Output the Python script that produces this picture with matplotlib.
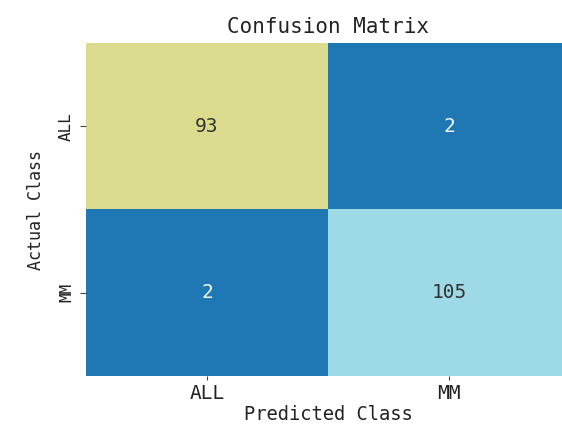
import numpy as np
import matplotlib
matplotlib.use("Agg")
import matplotlib.pyplot as plt
from matplotlib.colors import ListedColormap, BoundaryNorm

plt.rcParams["font.family"] = ["DejaVu Sans Mono"]

class_names = ["ALL", "MM"]
cm = np.array([[93, 2],
               [2, 105]])

# blue for small counts, olive / cyan for the diagonal
cmap = ListedColormap(["#1f77b4", "#dadb8d", "#9edae5"])
norm = BoundaryNorm([0, 50, 100, 120], cmap.N)

fig = plt.figure(figsize=(5.62, 4.25), dpi=100)
# heatmap runs slightly past the right edge of the canvas
ax = fig.add_axes([86 / 562, 49 / 425, 484 / 562, 333 / 425])

ax.imshow(cm, cmap=cmap, norm=norm, aspect="auto")
for i in range(cm.shape[0]):
    for j in range(cm.shape[1]):
        val = cm[i, j]
        color = "#f5f5f5" if val < 50 else "#333333"
        ax.text(j, i, str(val), ha="center", va="center", fontsize=14, color=color)

ax.set_xticks(range(len(class_names)))
ax.set_xticklabels(class_names, fontsize=14, color="#222222")
ax.set_yticks(range(len(class_names)))
ax.set_yticklabels(class_names, fontsize=11.5, rotation=90, va="center", color="#222222")
for s in ax.spines.values():
    s.set_visible(False)
ax.tick_params(axis="x", length=3, pad=3, color="#444444")
ax.tick_params(axis="y", length=4.5, pad=4, color="#444444")

ax.set_title("Confusion Matrix", fontsize=15, pad=7, color="#222222")
# pin the x label to the bottom edge of the figure
ax.set_xlabel("Predicted Class", fontsize=13.5)
ax.xaxis.set_label_coords(0.5, -0.144)
ax.xaxis.label.set_va("bottom")
ax.xaxis.label.set_color("#222222")
ax.set_ylabel("Actual Class", fontsize=12, labelpad=10, color="#222222")

fig.savefig("out.png", dpi=100)
